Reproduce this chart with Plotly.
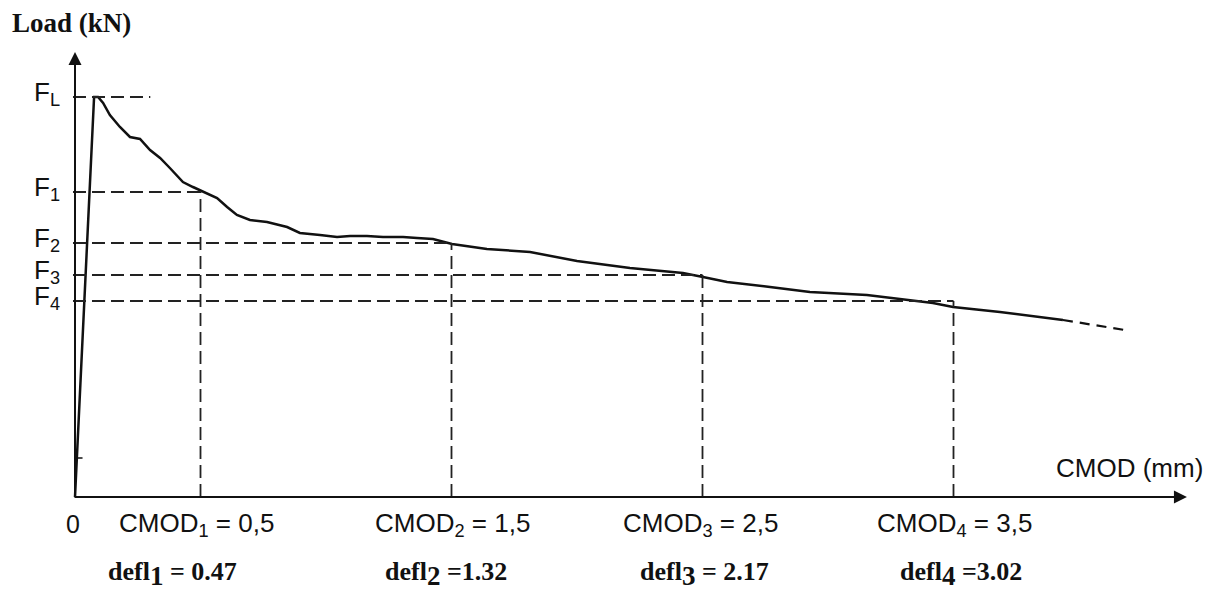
import plotly.graph_objects as go

# ---- data ----
cmod = [0, 0.076, 0.092, 0.112, 0.139, 0.179, 0.219, 0.259, 0.299, 0.339, 0.378, 0.430, 0.470,
        0.526, 0.566, 0.606, 0.645, 0.697, 0.765, 0.845, 0.896, 0.976, 1.044, 1.096, 1.163,
        1.227, 1.307, 1.363, 1.426, 1.502, 1.641, 1.813, 2.000, 2.211, 2.422, 2.502, 2.598,
        2.769, 2.928, 3.155, 3.418, 3.498, 3.685, 3.936]
load = [0, 4.00, 4.00, 3.94, 3.82, 3.70, 3.60, 3.58, 3.47, 3.39, 3.29, 3.15, 3.10,
        3.04, 2.99, 2.90, 2.82, 2.77, 2.75, 2.70, 2.64, 2.62, 2.60, 2.61, 2.61,
        2.60, 2.60, 2.59, 2.58, 2.53, 2.48, 2.45, 2.36, 2.29, 2.24, 2.20, 2.15,
        2.10, 2.05, 2.02, 1.94, 1.90, 1.85, 1.77]
cmod_ext = [3.936, 4.183]
load_ext = [1.77, 1.67]

f_names = ["L", "1", "2", "3", "4"]
f_levels = [4.00, 3.05, 2.54, 2.22, 1.96]
f_line_end = [0.30, 0.5, 1.5, 2.5, 3.5]

cmod_marks = [0.5, 1.5, 2.5, 3.5]
cmod_text = ["0,5", "1,5", "2,5", "3,5"]
defl_vals = ["0.47", "1.32", "2.17", "3.02"]
defl_sep = [" = ", " =", " = ", " ="]

x_axis_end = 4.43
y_axis_end = 4.45
y_tick = 0.39

W, H = 1218, 599
x_lo, x_hi = -75 / 251, (W - 75) / 251
y_lo, y_hi = -1.02, 4.97

SANS = "Liberation Sans, Arial, sans-serif"
SERIF = "Liberation Serif, Times New Roman, serif"

fig = go.Figure()
fig.add_trace(go.Scatter(x=cmod, y=load, mode="lines",
                         line=dict(color="#111", width=2.5), hoverinfo="skip"))
fig.add_trace(go.Scatter(x=cmod_ext, y=load_ext, mode="lines",
                         line=dict(color="#111", width=2.2, dash="10px,7px"), hoverinfo="skip"))

shapes = []
dash = "13px,6px"
for lvl, xe in zip(f_levels, f_line_end):
    shapes.append(dict(type="line", x0=-0.008, x1=xe, y0=lvl, y1=lvl, xref="x", yref="y",
                       line=dict(color="#222", width=1.8, dash=dash)))
for xm, lvl in zip(cmod_marks, f_levels[1:]):
    shapes.append(dict(type="line", x0=xm, x1=xm, y0=0, y1=lvl, xref="x", yref="y",
                       line=dict(color="#222", width=1.8, dash=dash)))
# small tick on y axis
shapes.append(dict(type="line", x0=0, x1=0.03, y0=y_tick, y1=y_tick, xref="x", yref="y",
                   line=dict(color="#111", width=1.5)))

annotations = []
# axes with arrows
annotations.append(dict(x=x_axis_end, y=0, ax=-0.008, ay=0, xref="x", yref="y", axref="x", ayref="y",
                        showarrow=True, arrowhead=2, arrowsize=1.3, arrowwidth=2, arrowcolor="#111",
                        standoff=0, startstandoff=0, text=""))
annotations.append(dict(x=0, y=y_axis_end, ax=0, ay=0, xref="x", yref="y", axref="x", ayref="y",
                        showarrow=True, arrowhead=2, arrowsize=1.3, arrowwidth=2, arrowcolor="#111",
                        standoff=0, startstandoff=0, text=""))

for nm, lvl in zip(f_names, f_levels):
    annotations.append(dict(x=0, y=lvl, xref="x", yref="y", xanchor="right", yanchor="middle",
                            xshift=-13, yshift=4, showarrow=False,
                            text="F<sub>" + nm + "</sub>", font=dict(family=SANS, size=26, color="#111")))

annotations.append(dict(x=0, y=0, xref="x", yref="y", xanchor="center", yanchor="top",
                        xshift=-2, yshift=-11, showarrow=False, text="0",
                        font=dict(family=SANS, size=25, color="#111")))

cm_shift = [-4, 1, -2, 1]
df_shift = [-28, -6, 2, 7]
for i, (xm, ct, dv, sep) in enumerate(zip(cmod_marks, cmod_text, defl_vals, defl_sep)):
    annotations.append(dict(x=xm, y=0, xref="x", yref="y", xanchor="center", yanchor="top",
                            xshift=cm_shift[i], yshift=-9, showarrow=False,
                            text="CMOD<sub>%d</sub> = %s" % (i + 1, ct),
                            font=dict(family=SANS, size=26, color="#111")))
    annotations.append(dict(x=xm, y=0, xref="x", yref="y", xanchor="center", yanchor="top",
                            xshift=df_shift[i], yshift=-58, showarrow=False,
                            text="<b>defl<sub><span style='font-size:27px'>%d</span></sub>%s%s</b>" % (i + 1, sep, dv),
                            font=dict(family=SERIF, size=26, color="#111")))

annotations.append(dict(x=4.50, y=0, xref="x", yref="y", xanchor="right", yanchor="bottom",
                        yshift=12, showarrow=False, text="CMOD (mm)",
                        font=dict(family=SANS, size=26, color="#111")))
annotations.append(dict(x=10 / W, y=1 - 23 / H, xref="paper", yref="paper", xanchor="left", yanchor="middle",
                        showarrow=False, text="<b>Load (kN)</b>",
                        font=dict(family=SERIF, size=27, color="#111")))

fig.update_layout(
    width=W, height=H, margin=dict(l=0, r=0, t=0, b=0),
    paper_bgcolor="white", plot_bgcolor="white", showlegend=False,
    xaxis=dict(range=[x_lo, x_hi], visible=False, fixedrange=True),
    yaxis=dict(range=[y_lo, y_hi], visible=False, fixedrange=True),
    shapes=shapes, annotations=annotations,
)
fig.write_html("out.html", config={"displayModeBar": False},
               post_script="document.body.style.margin='0';document.body.style.overflow='hidden';")
